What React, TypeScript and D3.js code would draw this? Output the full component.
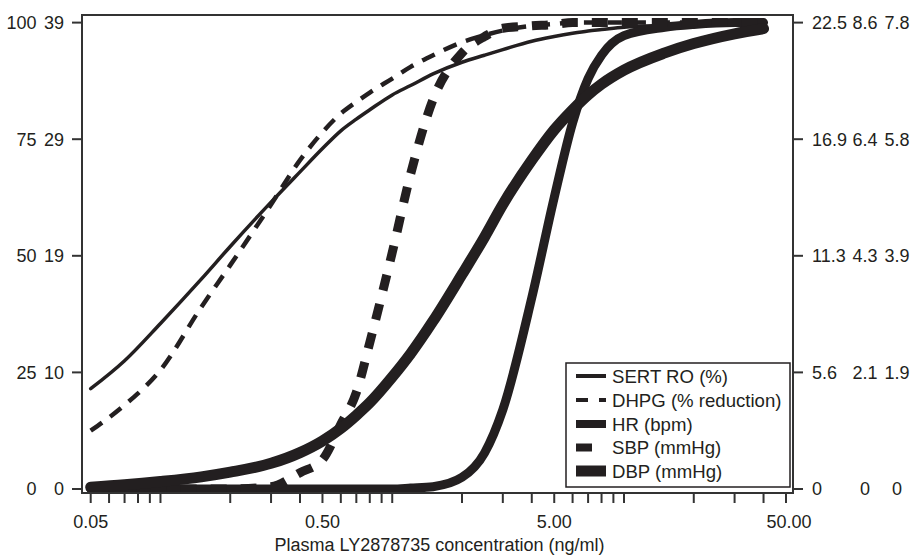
import React from "react"
import * as d3 from "d3"

const width = 914
const height = 556

// plasma concentration (ng/ml) where the curves were read
const conc = [0.05, 0.07, 0.1, 0.15, 0.2, 0.3, 0.4, 0.5, 0.6, 0.7, 0.8, 1, 1.2, 1.5, 2, 2.5, 3, 4, 5, 6, 7, 8, 10, 15, 20, 30, 40]

// % of maximum effect
const sert = [21.5, 27.5, 35.5, 45, 52, 61.5, 68, 73, 76.8, 79.3, 81.3, 84.5, 86.5, 89, 91.5, 93, 94.2, 96, 97, 97.7, 98.2, 98.5, 99, 99.4, 99.6, 99.8, 100]
const dhpg = [12.5, 18, 25.5, 39, 48, 61, 70.5, 76.5, 80.5, 83, 85, 88, 90.5, 93, 95.8, 97.3, 98.3, 99.3, 99.7, 100, 100, 100, 100, 100, 100, 100, 100]
const hr = [0, 0, 0, 0, 0, 0, 0, 0, 0, 0, 0, 0, 0.2, 0.5, 2.5, 7.7, 17, 41, 62.5, 78.5, 88, 93, 97.2, 99, 99.6, 100, 100]
const sbp = [0, 0, 0, 0, 0, 0.5, 3.5, 6.3, 13.9, 20.7, 31.4, 50.7, 67.5, 83.5, 93.5, 97, 98.8, 99.3, 99.6, 100, 100, 100, 100, 100, 100, 100, 100]
const dbp = [0.4, 0.9, 1.6, 2.6, 3.6, 5.5, 7.8, 10.3, 13, 15.8, 18.5, 24, 29, 36, 46, 54, 61, 70.5, 77, 81.3, 84.5, 86.8, 89.8, 93.5, 95.5, 97.6, 98.7]

// axis labels
const xLabelValues = [0.05, 0.5, 5, 50]
const xLabels = ["0.05", "0.50", "5.00", "50.00"]
const yTickValues = [100, 75, 50, 25, 0]
const leftCol1 = ["100", "75", "50", "25", "0"]
const leftCol2 = ["39", "29", "19", "10", "0"]
const rightCol1 = ["22.5", "16.9", "11.3", "5.6", "0"]
const rightCol2 = ["8.6", "6.4", "4.3", "2.1", "0"]
const rightCol3 = ["7.8", "5.8", "3.9", "1.9", "0"]

const ink = "#231f20"
const font = "'Liberation Sans', Arial, Helvetica, sans-serif"

const series = [
  { name: "SERT RO (%)", values: sert, width: 3.5, dash: null, cap: "round", swatch: 30, key: 4 },
  { name: "DHPG (% reduction)", values: dhpg, width: 4.5, dash: "14,10", cap: "butt", swatch: 30, key: 4 },
  { name: "HR (bpm)", values: hr, width: 9, dash: null, cap: "round", swatch: 30, key: 8 },
  { name: "SBP (mmHg)", values: sbp, width: 9, dash: "16,14", cap: "butt", swatch: 16, key: 8 },
  { name: "DBP (mmHg)", values: dbp, width: 11, dash: null, cap: "round", swatch: 30, key: 11 },
]

export default function App() {
  const box = { left: 82, right: 793, top: 15, bottom: 493 }
  const x = d3.scaleLog().domain([0.05, 50]).range([90.7, 786])
  const y = d3.scaleLinear().domain([0, 100]).range([489, 22.6])

  const line = d3
    .line<number>()
    .x((_, i) => x(conc[i]))
    .y(d => y(d))
    .curve(d3.curveMonotoneX)

  const minorTicks = x.ticks()
  const legend = { x: 566, y: 363, w: 224, h: 124 }
  const rowY = [376, 400, 424, 447.5, 471]

  return (
    <div style={{ position: "absolute", left: 0, top: 0 }}>
      <svg width={width} height={height} style={{ display: "block", background: "#fff" }} fontFamily={font}>
        {/* curves */}
        {series.map(s => (
          <path
            key={s.name}
            d={line(s.values) || ""}
            fill="none"
            stroke={ink}
            strokeWidth={s.width}
            strokeDasharray={s.dash || undefined}
            strokeLinecap={s.cap as any}
            strokeLinejoin="round"
          />
        ))}

        {/* frame */}
        <rect
          x={box.left}
          y={box.top}
          width={box.right - box.left}
          height={box.bottom - box.top}
          fill="none"
          stroke="#333"
          strokeWidth={2}
        />

        {/* x axis */}
        {minorTicks.map(t => (
          <line key={t} x1={x(t)} x2={x(t)} y1={box.bottom} y2={box.bottom + 10} stroke="#333" strokeWidth={2} />
        ))}
        {xLabelValues.map((v, i) => (
          <text key={v} x={x(v) + (i === 3 ? 3 : 0)} y={528} textAnchor="middle" fontSize={18} fill={ink}>
            {xLabels[i]}
          </text>
        ))}
        <text x={(box.left + box.right) / 2 + 2} y={551} textAnchor="middle" fontSize={18} fill={ink}>
          Plasma LY2878735 concentration (ng/ml)
        </text>

        {/* y axes */}
        {yTickValues.map((v, i) => (
          <g key={v} fontSize={18} fill={ink}>
            <line x1={box.left - 10} x2={box.left} y1={y(v)} y2={y(v)} stroke="#333" strokeWidth={2} />
            <line x1={box.right} x2={box.right + 10} y1={y(v)} y2={y(v)} stroke="#333" strokeWidth={2} />
            <text x={36.5} y={y(v)} dy="0.35em" textAnchor="end">{leftCol1[i]}</text>
            <text x={64} y={y(v)} dy="0.35em" textAnchor="end">{leftCol2[i]}</text>
            <text x={812} y={y(v)} dy="0.35em" textAnchor="start">{rightCol1[i]}</text>
            <text x={865} y={y(v)} dy="0.35em" textAnchor="middle">{rightCol2[i]}</text>
            <text x={897} y={y(v)} dy="0.35em" textAnchor="middle">{rightCol3[i]}</text>
          </g>
        ))}

        {/* legend */}
        <rect x={legend.x} y={legend.y} width={legend.w} height={legend.h} fill="#fff" stroke={ink} strokeWidth={1.5} />
        {series.map((s, i) => (
          <g key={s.name}>
            <line
              x1={576}
              x2={576 + s.swatch}
              y1={rowY[i]}
              y2={rowY[i]}
              stroke={ink}
              strokeWidth={s.key}
              strokeDasharray={s.name.startsWith("DHPG") ? "12,11" : undefined}
            />
            <text x={612} y={rowY[i]} dy="0.35em" fontSize={18.6} fill={ink}>
              {s.name}
            </text>
          </g>
        ))}
      </svg>
    </div>
  )
}
